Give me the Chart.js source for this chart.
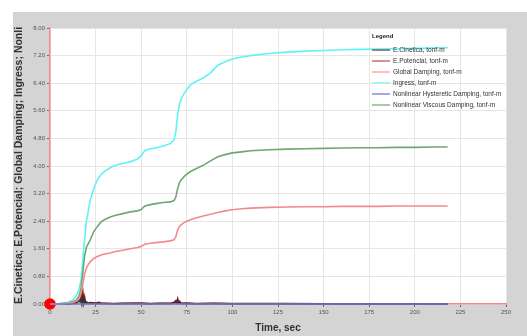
<!DOCTYPE html>
<html>
<head>
<meta charset="utf-8">
<script src="https://cdn.jsdelivr.net/npm/chart.js"></script>
<style>
  body { margin: 0; background: #ffffff; }
  #wrap { position: absolute; left: 13px; top: 12px; width: 514px; height: 324px; background: #d4d4d4; }
</style>
</head>
<body>
<div id="wrap"><canvas id="chart" width="514" height="324"></canvas></div>
<script>
// time (sec) for the damping / ingress curves
const timeMain = [0, 5, 10, 12, 14, 15, 16, 17, 18, 19, 20, 21, 22, 24, 26, 28, 30, 33, 36, 40, 44, 48, 50, 52, 55, 58, 62, 66, 68, 69, 70, 71, 72, 74, 77, 80, 84, 88, 92, 96, 100, 105, 110, 120, 130, 140, 150, 160, 170, 180, 190, 200, 210, 218];
const ingress = [0, 0.01, 0.05, 0.1, 0.2, 0.3, 0.45, 0.7, 1.3, 1.9, 2.4, 2.7, 3.0, 3.35, 3.6, 3.75, 3.85, 3.95, 4.02, 4.08, 4.12, 4.2, 4.3, 4.45, 4.5, 4.52, 4.58, 4.65, 4.75, 5.0, 5.5, 5.8, 5.95, 6.15, 6.35, 6.45, 6.55, 6.7, 6.92, 7.02, 7.1, 7.16, 7.2, 7.26, 7.3, 7.33, 7.35, 7.37, 7.38, 7.39, 7.4, 7.41, 7.42, 7.43];
const viscous = [0, 0.005, 0.03, 0.06, 0.1, 0.15, 0.25, 0.45, 0.9, 1.4, 1.65, 1.75, 1.85, 2.1, 2.25, 2.38, 2.45, 2.52, 2.57, 2.62, 2.67, 2.7, 2.74, 2.84, 2.88, 2.91, 2.94, 2.96, 3.0, 3.1, 3.35, 3.52, 3.6, 3.72, 3.84, 3.92, 4.02, 4.15, 4.27, 4.33, 4.38, 4.41, 4.44, 4.47, 4.49, 4.5, 4.51, 4.52, 4.53, 4.53, 4.54, 4.54, 4.55, 4.55];
const globalDamping = [0, 0.003, 0.02, 0.04, 0.07, 0.1, 0.15, 0.3, 0.6, 0.88, 1.05, 1.15, 1.22, 1.32, 1.38, 1.42, 1.45, 1.48, 1.52, 1.56, 1.6, 1.64, 1.67, 1.73, 1.76, 1.78, 1.8, 1.83, 1.86, 1.95, 2.15, 2.25, 2.3, 2.38, 2.44, 2.49, 2.55, 2.6, 2.65, 2.7, 2.73, 2.76, 2.78, 2.8, 2.81, 2.82, 2.82, 2.83, 2.83, 2.83, 2.84, 2.84, 2.84, 2.84];

// energy spikes near zero
const timeEnergy = [0, 10, 14, 15, 16, 16.5, 17, 17.5, 18, 18.5, 19, 19.5, 20, 21, 22, 25, 27, 28, 30, 35, 40, 50, 55, 60, 66, 68, 69, 69.5, 70, 70.5, 71, 72, 75, 80, 90, 100, 110, 130, 150, 180, 218];
const ePotencial = [0, 0.01, 0.04, 0.08, 0.15, 0.1, 0.25, 0.12, 0.35, 0.05, 0.2, 0.03, 0.06, 0.02, 0.04, 0.03, 0.05, 0.02, 0.02, 0.01, 0.02, 0.03, 0.01, 0.02, 0.02, 0.05, 0.1, 0.04, 0.15, 0.05, 0.08, 0.02, 0.03, 0.01, 0.02, 0.01, 0.01, 0.01, 0.005, 0.005, 0.005];
const eCinetica = [0, 0.005, 0.02, 0.05, 0.1, 0.06, 0.15, 0.08, 0.2, 0.03, 0.1, 0.02, 0.03, 0.01, 0.02, 0.01, 0.02, 0.01, 0.01, 0.005, 0.01, 0.01, 0.005, 0.01, 0.01, 0.02, 0.05, 0.02, 0.08, 0.02, 0.04, 0.01, 0.01, 0.005, 0.01, 0.005, 0.005, 0.005, 0.003, 0.003, 0.003];

const timeHyst = [0, 218];
const hysteretic = [0, 0];

const yTicks = [0, 0.8, 1.6, 2.4, 3.2, 4.0, 4.8, 5.6, 6.4, 7.2, 8.0];
const xTicks = [0, 25, 50, 75, 100, 125, 150, 175, 200, 225, 250];

const labels = ["E.Cinetica, tonf-m", "E.Potencial, tonf-m", "Global Damping, tonf-m", "Ingress, tonf-m", "Nonlinear Hysteretic Damping, tonf-m", "Nonlinear Viscous Damping, tonf-m"];
const lineColors = ["#333333", "#8b1a1a", "#f28a8a", "#5ff3f3", "#7a7ad8", "#6fa86f"];
const legendColors = ["#666666", "#c07070", "#ffaaaa", "#88f4f4", "#8888dd", "#88bb88"];

function pts(xs, ys) { return xs.map((x, i) => ({ x: x, y: ys[i] })); }

const plotBg = {
  id: "plotBg",
  beforeDraw(chart) {
    const a = chart.chartArea, c = chart.ctx;
    c.save();
    c.fillStyle = "#ffffff";
    c.fillRect(a.left, a.top, a.right - a.left, a.bottom - a.top);
    c.restore();
  }
};

const legendBox = {
  id: "legendBox",
  afterDraw(chart) {
    const c = chart.ctx;
    c.save();
    c.font = "bold 6px 'Liberation Sans'";
    c.fillStyle = "#222";
    c.textBaseline = "middle";
    c.fillText("Legend", 359, 24);
    c.font = "6.5px 'Liberation Sans'";
    labels.forEach((lab, i) => {
      const y = 38 + i * 11;
      c.strokeStyle = legendColors[i];
      c.lineWidth = 1.5;
      c.beginPath();
      c.moveTo(359, y);
      c.lineTo(377, y);
      c.stroke();
      c.fillStyle = "#333";
      c.fillText(lab, 380, y);
    });
    c.restore();
  }
};

const ds = (label, data, color, extra) => Object.assign({
  label: label, data: data, borderColor: color, backgroundColor: color,
  borderWidth: 1.6, pointRadius: 0, tension: 0
}, extra || {});

new Chart(document.getElementById("chart"), {
  type: "line",
  data: {
    datasets: [
      ds(labels[4], pts(timeHyst, hysteretic), lineColors[4]),
      ds(labels[2], pts(timeMain, globalDamping), lineColors[2]),
      ds(labels[5], pts(timeMain, viscous), lineColors[5]),
      ds(labels[3], pts(timeMain, ingress), lineColors[3]),
      ds(labels[0], pts(timeEnergy, eCinetica), lineColors[0]),
      ds(labels[1], pts(timeEnergy, ePotencial), lineColors[1], {
        pointRadius: c => c.dataIndex === 0 ? 5 : 0,
        pointBackgroundColor: "#ff0000", pointBorderColor: "#ff0000"
      })
    ]
  },
  options: {
    responsive: false,
    animation: false,
    clip: false,
    layout: { padding: { top: 16, right: 21, left: 0, bottom: 0 } },
    plugins: { legend: { display: false }, tooltip: { enabled: false } },
    scales: {
      x: {
        type: "linear", min: 0, max: 250,
        afterBuildTicks: s => { s.ticks = xTicks.map(v => ({ value: v })); },
        afterFit: s => { s.height = 32; },
        border: { color: "#f08a8a", width: 1.5 },
        grid: { color: "#e6e6e6", tickLength: 3, tickColor: "#666" },
        ticks: { color: "#555", font: { size: 6, family: "Liberation Sans" }, padding: 2, maxRotation: 0 },
        title: { display: true, text: "Time, sec", color: "#333", font: { size: 10, weight: "bold", family: "Liberation Sans" }, padding: { top: 0, bottom: 2 } }
      },
      y: {
        type: "linear", min: 0, max: 8,
        afterBuildTicks: s => { s.ticks = yTicks.map(v => ({ value: v })); },
        afterFit: s => { s.width = 37; },
        border: { color: "#f08a8a", width: 1.5 },
        grid: { color: "#e6e6e6", tickLength: 3, tickColor: "#666" },
        ticks: { color: "#555", font: { size: 6, family: "Liberation Sans" }, padding: 2, callback: v => v.toFixed(2) },
        title: { display: true, text: "E.Cinetica; E.Potencial; Global Damping; Ingress; Nonli", align: "start", color: "#333", font: { size: 10.5, weight: "bold", family: "Liberation Sans" }, padding: 0 }
      }
    }
  },
  plugins: [plotBg, legendBox]
});
</script>
</body>
</html>
